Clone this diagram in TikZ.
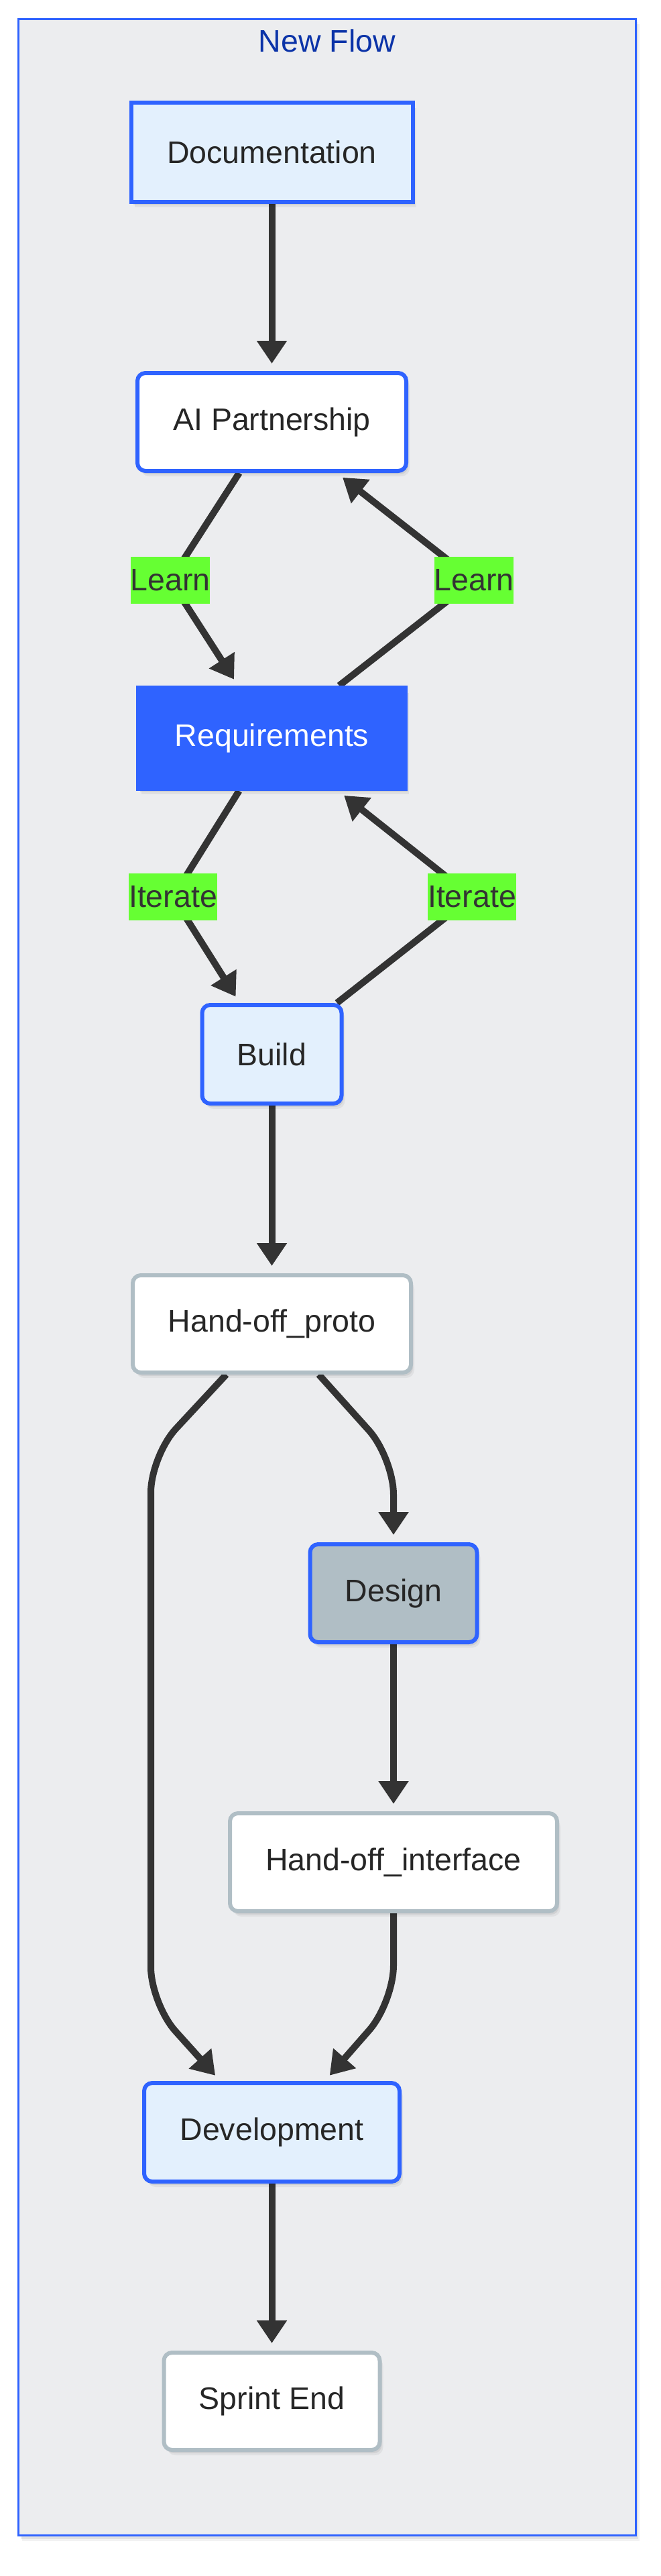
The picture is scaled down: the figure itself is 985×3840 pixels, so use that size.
\documentclass[tikz,border=0pt]{standalone}
\usepackage{fontspec}
\setmainfont{Liberation Sans}
\usetikzlibrary{arrows.meta,shadows}
\definecolor{mblue}{HTML}{2F63FF}
\definecolor{lblue}{HTML}{E3F0FD}
\definecolor{sgrey}{HTML}{B0BEC5}
\definecolor{framefill}{HTML}{ECEDEF}
\definecolor{titleblue}{HTML}{0B33A8}
\definecolor{lgreen}{HTML}{66FF33}
\definecolor{edgec}{HTML}{333333}
\definecolor{txt}{HTML}{262626}
\pgfdeclarelayer{bg}
\pgfdeclarelayer{edges}
\pgfsetlayers{bg,edges,main}
\begin{document}
\begin{tikzpicture}[x=1pt,y=-1pt,
  every node/.style={font=\fontsize{46.5}{56}\selectfont, text=txt},
  shad/.style={drop shadow={shadow xshift=5pt, shadow yshift=-8pt, opacity=0.05, fill=black},
               drop shadow={shadow xshift=3pt, shadow yshift=-5pt, opacity=0.07, fill=black}},
  box/.style={draw=mblue, line width=6pt, inner sep=0pt, minimum height=147pt, shad},
  rbox/.style={box, rounded corners=12pt},
  gbox/.style={rbox, draw=sgrey, fill=white},
  lab/.style={fill=lgreen, inner sep=0pt, minimum height=70pt, text=edgec},
  conn/.style={draw=edgec, line width=10pt, -{Triangle[length=34pt,width=43pt]}, shorten >=11pt},
  frame/.style={draw=mblue, line width=3pt, fill=framefill, inner sep=0pt, shad}
]
\useasboundingbox (0,0) rectangle (985,3840);
\begin{pgfonlayer}{bg}
  \node[frame, minimum width=921pt, minimum height=3751pt] (frm) at (488,1904) {};
  \node[text=titleblue] (title) at (488,61) {New Flow};
\end{pgfonlayer}

% nodes
\node[box, fill=lblue, minimum width=420pt, minimum height=148pt] (doc) at (405.5,227) {Documentation};
\node[rbox, fill=white, minimum width=401pt, minimum height=146pt] (ai) at (405.5,629) {AI Partnership};
\node[box, fill=mblue, text=white, minimum width=399pt, minimum height=151pt] (req) at (405.5,1100.5) {Requirements};
\node[rbox, fill=lblue, minimum width=208pt, minimum height=147pt] (build) at (405.5,1571.5) {Build};
\node[gbox, minimum width=415pt, minimum height=145pt] (proto) at (405.5,1973.5) {Hand-off\_proto};
\node[rbox, fill=sgrey, minimum width=249pt, minimum height=146pt] (design) at (587,2375) {Design};
\node[gbox, minimum width=488pt, minimum height=146pt] (hoi) at (587,2776) {Hand-off\_interface};
\node[rbox, fill=lblue, minimum width=381pt, minimum height=147pt] (dev) at (405.5,3178.5) {Development};
\node[gbox, minimum width=322pt, minimum height=145pt] (sprint) at (405.5,3579.5) {Sprint End};

% edge labels
\node[lab] (learnL) at (254,865) {Learn};
\node[lab] (learnR) at (707,865) {Learn};
\node[lab] (itL) at (258,1337) {Iterate};
\node[lab] (itR) at (704,1337) {Iterate};

% bend points
\coordinate (pl1) at (225,2170);
\coordinate (pl2) at (225,2987);
\coordinate (pr1) at (587,2173);
\coordinate (pr2) at (587,2985);

\begin{pgfonlayer}{edges}
  \draw[conn] (doc) -- (ai);
  \draw[conn] (ai) -- (learnL.center) -- (req);
  \draw[conn] (req) -- (learnR.center) -- (ai);
  \draw[conn] (req) -- (itL.center) -- (build);
  \draw[conn] (build) -- (itR.center) -- (req);
  \draw[conn] (build) -- (proto);
  \draw[conn, rounded corners=55pt] ([xshift=-68pt]proto.south) -- (pl1) -- (pl2) -- ([xshift=-77pt]dev.north);
  \draw[conn, rounded corners=55pt] ([xshift=70pt]proto.south) -- (pr1) -- (design);
  \draw[conn] (design) -- (hoi);
  \draw[conn, rounded corners=55pt] (hoi) -- (pr2) -- ([xshift=79pt]dev.north);
  \draw[conn] (dev) -- (sprint);
\end{pgfonlayer}
\end{tikzpicture}
\end{document}
